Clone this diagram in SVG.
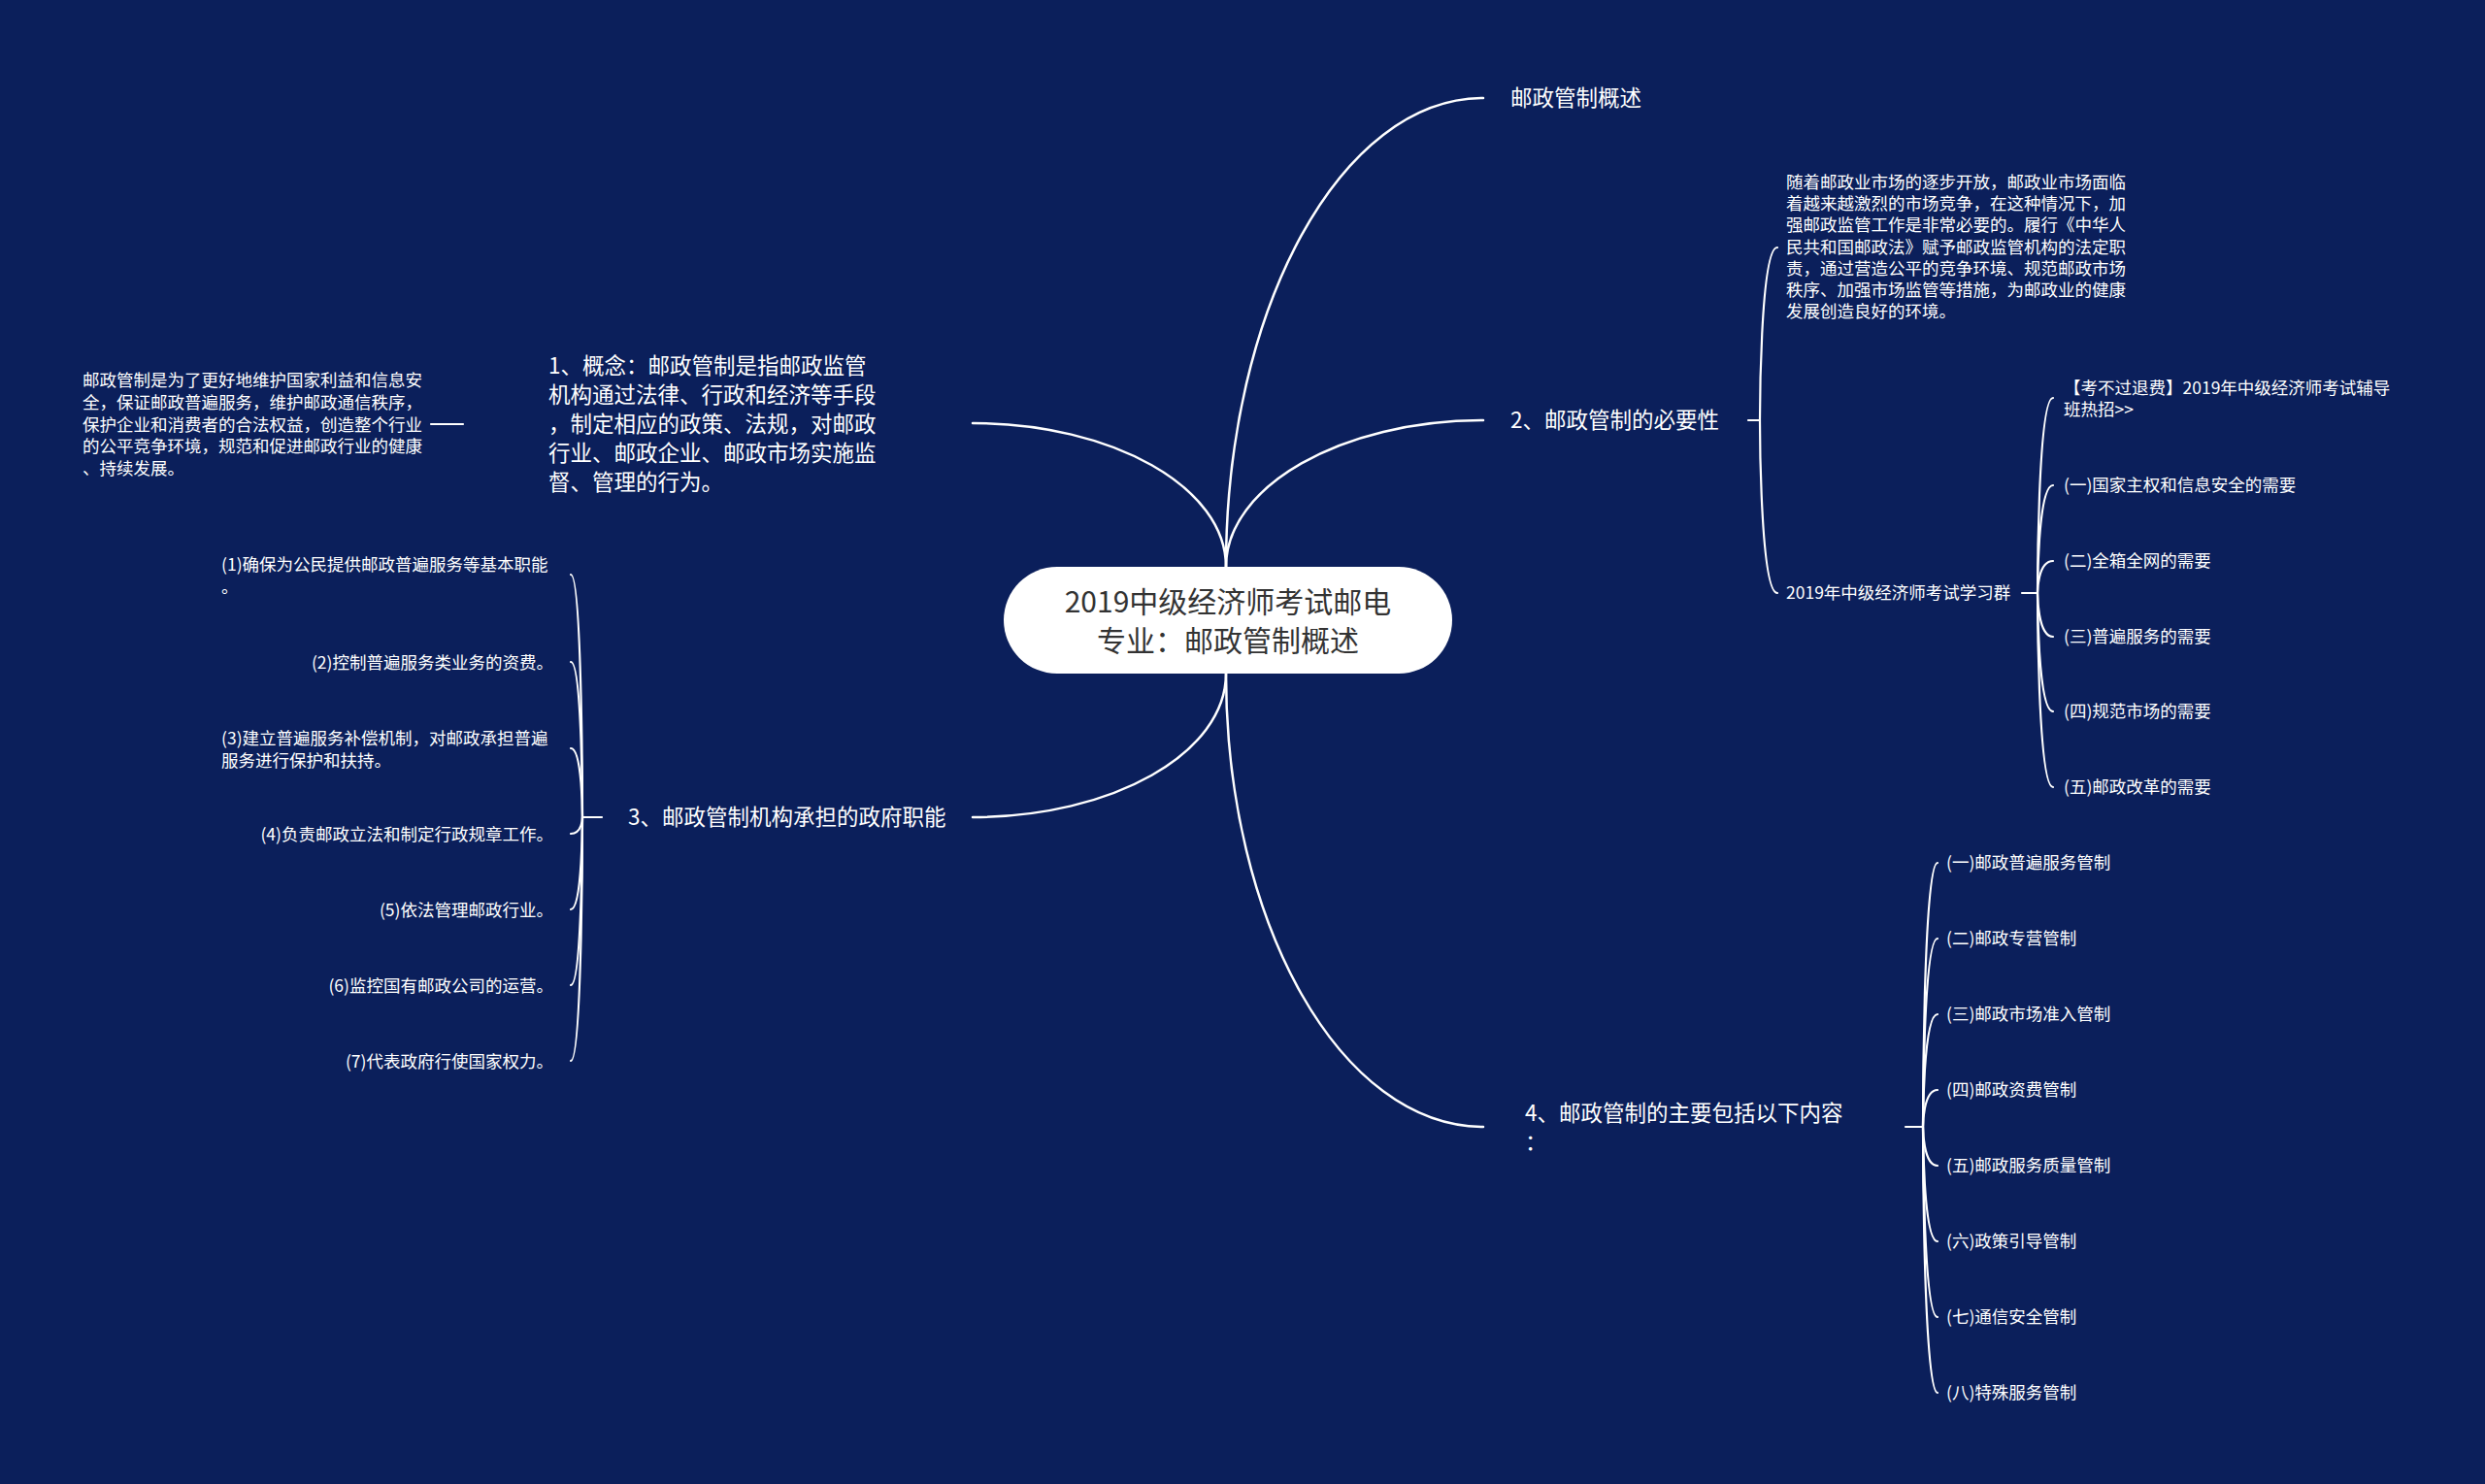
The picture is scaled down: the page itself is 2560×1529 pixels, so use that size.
<svg xmlns="http://www.w3.org/2000/svg" width="2560" height="1529" viewBox="0 0 2560 1529">
<style>
.t{font-family:"Noto Sans CJK SC","Microsoft YaHei",sans-serif;fill:#fff}
.m{font-size:22.5px}
.s{font-size:17.5px}
.r{font-size:30px;fill:#333}
.c{fill:none;stroke:#fff;stroke-width:2.5;stroke-linecap:round}
.b{fill:none;stroke:#fff;stroke-width:2.2;stroke-linecap:round}
</style>
<rect width="2560" height="1529" fill="#0b1f5b"/>
<g id="connectors">
<path class="c" d="M1263,584 C1263,317 1382,101 1528,101"/>
<path class="c" d="M1263,584 C1263,501 1382,433 1528,433"/>
<path class="c" d="M1263,694 C1263,952 1382,1161 1528,1161"/>
<path class="c" d="M1263,584 C1263,502 1146,436 1002,436"/>
<path class="c" d="M1263,694 C1263,776 1146,842 1002,842"/>
<path class="b" d="M444,437 L477,437"/>
<path class="b" d="M1801,433 L1813,433"/>
<path class="b" d="M620,842 L600,842"/>
<path class="b" d="M1963,1161 L1981,1161"/>
<path class="b" d="M2083,611 L2099,611"/>
<path class="b" d="M1813,433 C1813,433 1813,255 1831,255"/>
<path class="b" d="M1813,433 C1813,433 1813,611 1831,611"/>
<path class="b" d="M2099,611 C2099,611 2099,410 2115,410"/>
<path class="b" d="M2099,611 C2099,611 2099,500 2115,500"/>
<path class="b" d="M2099,611 C2099,611 2099,578 2115,578"/>
<path class="b" d="M2099,611 C2099,611 2099,656 2115,656"/>
<path class="b" d="M2099,611 C2099,611 2099,733 2115,733"/>
<path class="b" d="M2099,611 C2099,611 2099,811 2115,811"/>
<path class="b" d="M600,842 C600,842 600,592 588,592"/>
<path class="b" d="M600,842 C600,842 600,682 588,682"/>
<path class="b" d="M600,842 C600,842 600,771 588,771"/>
<path class="b" d="M600,842 C600,842 600,859 588,859"/>
<path class="b" d="M600,842 C600,842 600,937 588,937"/>
<path class="b" d="M600,842 C600,842 600,1015 588,1015"/>
<path class="b" d="M600,842 C600,842 600,1093 588,1093"/>
<path class="b" d="M1981,1161 C1981,1161 1981,889 1996,889"/>
<path class="b" d="M1981,1161 C1981,1161 1981,967 1996,967"/>
<path class="b" d="M1981,1161 C1981,1161 1981,1045 1996,1045"/>
<path class="b" d="M1981,1161 C1981,1161 1981,1123 1996,1123"/>
<path class="b" d="M1981,1161 C1981,1161 1981,1201 1996,1201"/>
<path class="b" d="M1981,1161 C1981,1161 1981,1279 1996,1279"/>
<path class="b" d="M1981,1161 C1981,1161 1981,1357 1996,1357"/>
<path class="b" d="M1981,1161 C1981,1161 1981,1435 1996,1435"/>
</g>
<g id="root">
<rect x="1034" y="584" width="462" height="110" rx="55" fill="#fff"/>
<text class="t r" x="1265" y="630.5" text-anchor="middle">2019中级经济师考试邮电</text>
<text class="t r" x="1265" y="670.5" text-anchor="middle">专业：邮政管制概述</text>
</g>
<g id="n-overview"><text class="t m" x="1556" y="109">邮政管制概述</text></g>
<g id="n2"><text class="t m" x="1556" y="441">2、邮政管制的必要性</text></g>
<g id="n2-para">
<text class="t s" x="1840" y="194">随着邮政业市场的逐步开放，邮政业市场面临</text>
<text class="t s" x="1840" y="216">着越来越激烈的市场竞争，在这种情况下，加</text>
<text class="t s" x="1840" y="238">强邮政监管工作是非常必要的。履行《中华人</text>
<text class="t s" x="1840" y="261">民共和国邮政法》赋予邮政监管机构的法定职</text>
<text class="t s" x="1840" y="283">责，通过营造公平的竞争环境、规范邮政市场</text>
<text class="t s" x="1840" y="305">秩序、加强市场监管等措施，为邮政业的健康</text>
<text class="t s" x="1840" y="327">发展创造良好的环境。</text>
</g>
<g id="n2-group"><text class="t s" x="1840" y="617">2019年中级经济师考试学习群</text></g>
<g id="g-ad">
<text class="t s" x="2126" y="406">【考不过退费】2019年中级经济师考试辅导</text>
<text class="t s" x="2126" y="428">班热招&gt;&gt;</text>
</g>
<g id="g-1"><text class="t s" x="2126" y="506">(一)国家主权和信息安全的需要</text></g>
<g id="g-2"><text class="t s" x="2126" y="584">(二)全箱全网的需要</text></g>
<g id="g-3"><text class="t s" x="2126" y="662">(三)普遍服务的需要</text></g>
<g id="g-4"><text class="t s" x="2126" y="739">(四)规范市场的需要</text></g>
<g id="g-5"><text class="t s" x="2126" y="817">(五)邮政改革的需要</text></g>
<g id="n4">
<text class="t m" x="1571" y="1155">4、邮政管制的主要包括以下内容</text>
<text class="t m" x="1571" y="1185">：</text>
</g>
<g id="n4-1"><text class="t s" x="2005" y="895">(一)邮政普遍服务管制</text></g>
<g id="n4-2"><text class="t s" x="2005" y="973">(二)邮政专营管制</text></g>
<g id="n4-3"><text class="t s" x="2005" y="1051">(三)邮政市场准入管制</text></g>
<g id="n4-4"><text class="t s" x="2005" y="1129">(四)邮政资费管制</text></g>
<g id="n4-5"><text class="t s" x="2005" y="1207">(五)邮政服务质量管制</text></g>
<g id="n4-6"><text class="t s" x="2005" y="1285">(六)政策引导管制</text></g>
<g id="n4-7"><text class="t s" x="2005" y="1363">(七)通信安全管制</text></g>
<g id="n4-8"><text class="t s" x="2005" y="1441">(八)特殊服务管制</text></g>
<g id="n1">
<text class="t m" x="565" y="385">1、概念：邮政管制是指邮政监管</text>
<text class="t m" x="565" y="415">机构通过法律、行政和经济等手段</text>
<text class="t m" x="565" y="445">，制定相应的政策、法规，对邮政</text>
<text class="t m" x="565" y="475">行业、邮政企业、邮政市场实施监</text>
<text class="t m" x="565" y="505">督、管理的行为。</text>
</g>
<g id="n1-para">
<text class="t s" x="85" y="398">邮政管制是为了更好地维护国家利益和信息安</text>
<text class="t s" x="85" y="421">全，保证邮政普遍服务，维护邮政通信秩序，</text>
<text class="t s" x="85" y="444">保护企业和消费者的合法权益，创造整个行业</text>
<text class="t s" x="85" y="466">的公平竞争环境，规范和促进邮政行业的健康</text>
<text class="t s" x="85" y="489">、持续发展。</text>
</g>
<g id="n3"><text class="t m" x="647" y="850">3、邮政管制机构承担的政府职能</text></g>
<g id="n3-1">
<text class="t s" x="228" y="588">(1)确保为公民提供邮政普遍服务等基本职能</text>
<text class="t s" x="228" y="611">。</text>
</g>
<g id="n3-2"><text class="t s" x="570" y="689" text-anchor="end">(2)控制普遍服务类业务的资费。</text></g>
<g id="n3-3">
<text class="t s" x="228" y="767">(3)建立普遍服务补偿机制，对邮政承担普遍</text>
<text class="t s" x="228" y="790">服务进行保护和扶持。</text>
</g>
<g id="n3-4"><text class="t s" x="570" y="866" text-anchor="end">(4)负责邮政立法和制定行政规章工作。</text></g>
<g id="n3-5"><text class="t s" x="570" y="944" text-anchor="end">(5)依法管理邮政行业。</text></g>
<g id="n3-6"><text class="t s" x="570" y="1022" text-anchor="end">(6)监控国有邮政公司的运营。</text></g>
<g id="n3-7"><text class="t s" x="570" y="1100" text-anchor="end">(7)代表政府行使国家权力。</text></g>
</svg>
